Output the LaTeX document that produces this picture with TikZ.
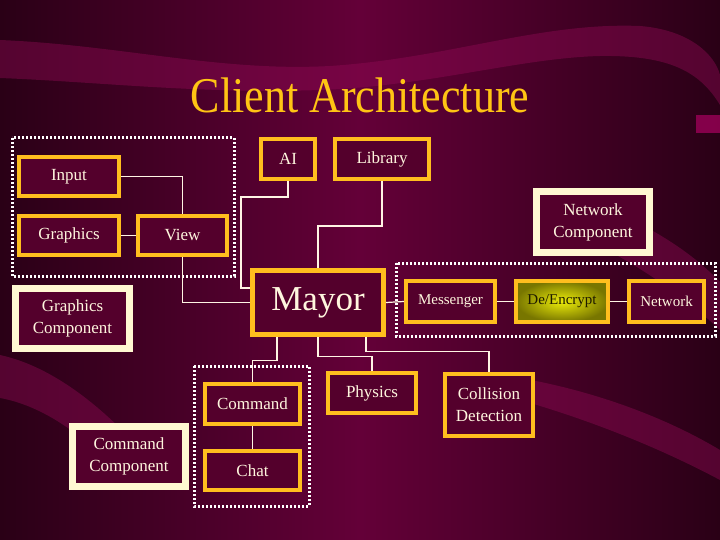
\documentclass[tikz,border=0pt]{standalone}
\usepackage{fontspec}
\setmainfont{Liberation Serif}
\definecolor{bgmid}{RGB}{100,0,56}
\definecolor{bgdark}{RGB}{42,0,22}
\definecolor{bandcol}{RGB}{150,12,88}
\definecolor{blobcol}{RGB}{170,0,96}
\definecolor{boxfill}{RGB}{84,0,44}
\definecolor{boxyellow}{RGB}{255,190,30}
\definecolor{boxcream}{RGB}{255,248,210}
\definecolor{boxtext}{RGB}{255,246,222}
\definecolor{titlecol}{RGB}{255,196,20}
\definecolor{linecol}{RGB}{255,245,228}
\definecolor{cryptin}{RGB}{236,236,10}
\definecolor{cryptout}{RGB}{120,118,0}
\definecolor{crypttext}{RGB}{30,26,0}

\begin{document}
\begin{tikzpicture}[x=1pt,y=-1pt,
        ybox/.style={draw=boxyellow,line width=4pt,fill=boxfill,text=boxtext,
                font=\fontsize{17}{22}\selectfont,align=center,inner sep=0pt},
        cbox/.style={ybox,draw=boxcream,line width=7pt},
        smallbox/.style={ybox,font=\fontsize{15}{18}\selectfont},
        link/.style={draw=linecol,line width=1.2pt},
        dotframe/.style={draw=white,line width=3pt,dash pattern=on 2pt off 2pt},
        band/.style={fill=bandcol,opacity=0.4}]
        \useasboundingbox (0,0) rectangle (720,540);
        \shade[left color=bgdark,right color=bgdark,middle color=bgmid] (0,0) rectangle (720,540);
        \fill[band] (0,40) .. controls (120,45) and (220,72) .. (330,66)
                .. controls (450,58) and (540,22) .. (640,26)
                .. controls (690,30) and (715,55) .. (720,75) -- (720,105)
                .. controls (700,72) and (670,55) .. (600,56)
                .. controls (520,58) and (430,86) .. (320,90)
                .. controls (200,94) and (100,82) .. (0,78) -- cycle;
        \fill[blobcol,opacity=0.7] (696,115) rectangle (720,133);
        \fill[band] (0,355) .. controls (60,368) and (120,420) .. (170,485)
                -- (130,490) .. controls (90,435) and (40,405) .. (0,398) -- cycle;
        \fill[band] (560,192) .. controls (620,210) and (680,240) .. (720,282)
                -- (720,330) .. controls (680,292) and (620,252) .. (560,228) -- cycle;
        \fill[band] (520,378) .. controls (600,392) and (670,420) .. (720,450)
                -- (720,480) .. controls (660,448) and (590,420) .. (520,400) -- cycle;

        \node(title) at (360,95) {\color{titlecol}\fontsize{50}{52}\selectfont\scalebox{0.88}[1]{Client Architecture}};

        \draw[dotframe] (12,138) rectangle (234,276);
        \draw[dotframe] (396,263) rectangle (715,336);
        \draw[dotframe] (194,366) rectangle (309,506);

        \node[ybox,minimum width=100pt,minimum height=39pt](input) at (69,176.5) {Input};
        \node[ybox,minimum width=100pt,minimum height=39pt](graphics) at (69,235.5) {Graphics};
        \node[ybox,minimum width=89pt,minimum height=39pt](view) at (182.5,235.5) {View};
        \node[ybox,minimum width=54pt,minimum height=40pt](ai) at (288,159) {AI};
        \node[ybox,minimum width=94pt,minimum height=40pt](library) at (382,159) {Library};
        \node[cbox,minimum width=113pt,minimum height=61pt](netcomp) at (593,222) {Network\\Component};
        \node[ybox,line width=5pt,minimum width=131pt,minimum height=64pt,
                font=\fontsize{35}{40}\selectfont](mayor) at (318,302.5) {Mayor};
        \node[cbox,minimum width=114pt,minimum height=60pt](gcomp) at (72.5,318.5) {Graphics\\Component};
        \node[smallbox,minimum width=89pt,minimum height=41pt](messenger) at (450.5,301.5) {Messenger};
        \node[smallbox,minimum width=92pt,minimum height=41pt,inner color=cryptin,outer color=cryptout,
                text=crypttext](decrypt) at (562,301.5) {De/Encrypt};
        \node[smallbox,minimum width=75pt,minimum height=41pt](network) at (666.5,301.5) {Network};
        \node[ybox,minimum width=88pt,minimum height=40pt](physics) at (372,393) {Physics};
        \node[ybox,minimum width=88pt,minimum height=62pt](collision) at (489,405) {Collision\\Detection};
        \node[ybox,minimum width=95pt,minimum height=40pt](command) at (252.5,404) {Command};
        \node[ybox,minimum width=95pt,minimum height=39pt](chat) at (252.5,470.5) {Chat};
        \node[cbox,minimum width=113pt,minimum height=60pt](cmdcomp) at (129,456.5) {Command\\Component};

        \draw[link](input.east) -| (view.north);
        \draw[link](graphics.east) -- (view.west);
        \draw[link](view.south) |- (mayor.west);
        \draw[link](ai.south) |- (241,197) |- ([yshift=14.5pt]mayor.west);
        \draw[link](library.south) -- ++(0,45) -| (mayor.north);
        \draw[link](mayor.east) -- (messenger.west);
        \draw[link](messenger.east) -- (decrypt.west);
        \draw[link](decrypt.east) -- (network.west);
        \draw[link]([xshift=-41pt]mayor.south) -- ++(0,23.5) -| (command.north);
        \draw[link](mayor.south) -- ++(0,19.5) -| (physics.north);
        \draw[link]([xshift=48pt]mayor.south) -- ++(0,14.5) -| (collision.north);
        \draw[link](command.south) -- (chat.north);
        \end{tikzpicture}
\end{document}
